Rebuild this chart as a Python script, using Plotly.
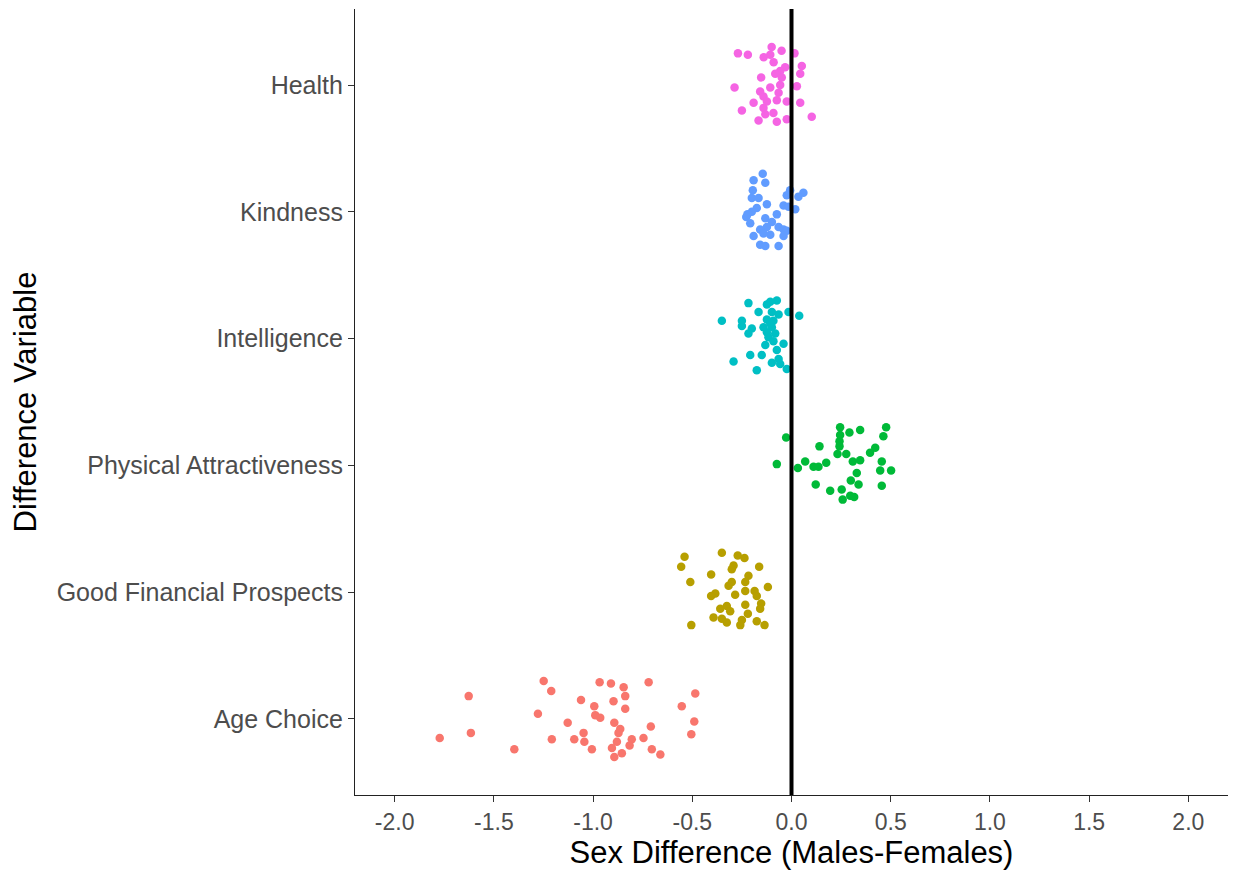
import plotly.graph_objects as go

categories = ["Age Choice", "Good Financial Prospects", "Physical Attractiveness",
              "Intelligence", "Kindness", "Health"]
colors = ["#F8766D", "#B79F00", "#00BA38", "#00BFC4", "#619CFF", "#F564E3"]

# x = sex difference, j = vertical jitter offset around the category
health_x = [-0.27, -0.22, -0.10, -0.05, 0.015, -0.14, -0.107, -0.09, 0.052, 0.044, -0.032, -0.057,
            -0.082, -0.153, -0.049, -0.287, -0.107, -0.057, 0.027, -0.158, -0.065, -0.141, -0.124,
            -0.074, -0.024, -0.191, 0.044, -0.141, -0.25, -0.091, -0.132, -0.166, -0.074, -0.024, 0.102]
health_j = [0.25, 0.24, 0.30, 0.27, 0.25, 0.22, 0.24, 0.18, 0.15, 0.09, 0.14, 0.11,
            0.09, 0.06, 0.06, -0.02, -0.02, 0.00, -0.01, -0.05, -0.06, -0.09, -0.13,
            -0.12, -0.13, -0.14, -0.14, -0.18, -0.20, -0.22, -0.23, -0.28, -0.29, -0.27, -0.25]

kind_x = [-0.145, -0.191, -0.132, -0.195, -0.007, 0.06, -0.024, 0.035, -0.2, -0.166, -0.124, -0.04,
          -0.015, -0.175, -0.2, -0.074, 0.019, -0.228, -0.132, -0.208, -0.099, -0.124, -0.065, -0.158,
          -0.04, -0.024, -0.191, -0.107, -0.141, -0.04, -0.158, -0.132, -0.065, -0.222]
kind_j = [0.30, 0.25, 0.23, 0.17, 0.17, 0.15, 0.13, 0.12, 0.11, 0.11, 0.06, 0.05,
          0.04, 0.03, 0.00, -0.02, 0.02, -0.04, -0.05, -0.09, -0.08, -0.12, -0.12, -0.14,
          -0.14, -0.15, -0.19, -0.18, -0.17, -0.19, -0.26, -0.27, -0.27, -0.02]

intel_x = [-0.074, -0.217, -0.124, -0.107, -0.166, -0.015, 0.039, -0.099, -0.065, -0.351, -0.25, -0.124,
           -0.091, -0.25, -0.141, -0.099, -0.2, -0.217, -0.124, -0.082, -0.116, -0.091, -0.04, -0.132,
           -0.074, -0.15, -0.208, -0.065, -0.292, -0.099, -0.057, -0.024, -0.175, -0.107]
intel_j = [0.30, 0.28, 0.27, 0.29, 0.21, 0.21, 0.18, 0.21, 0.19, 0.14, 0.14, 0.15,
           0.14, 0.10, 0.09, 0.09, 0.08, 0.04, 0.05, 0.04, 0.01, -0.02, -0.04, -0.05,
           -0.09, -0.13, -0.13, -0.16, -0.18, -0.19, -0.20, -0.24, -0.25, 0.12]

phys_x = [-0.027, 0.245, 0.346, 0.292, 0.477, 0.463, 0.245, 0.242, 0.141, 0.242, 0.422, 0.396,
          0.232, 0.276, -0.074, 0.069, 0.175, 0.309, 0.346, 0.455, 0.032, 0.111, 0.136, 0.329,
          0.447, 0.502, 0.299, 0.338, 0.122, 0.195, 0.253, 0.455, 0.258, 0.296, 0.316]
phys_j = [0.22, 0.30, 0.28, 0.26, 0.30, 0.23, 0.24, 0.19, 0.15, 0.15, 0.14, 0.10,
          0.09, 0.09, 0.01, 0.03, 0.02, 0.03, 0.04, 0.03, -0.02, -0.01, -0.01, -0.06,
          -0.04, -0.04, -0.12, -0.15, -0.15, -0.20, -0.19, -0.16, -0.27, -0.24, -0.25]

fin_x = [-0.539, -0.556, -0.351, -0.271, -0.237, -0.292, -0.301, -0.163, -0.405, -0.217, -0.51, -0.301,
         -0.233, -0.317, -0.119, -0.233, -0.186, -0.384, -0.405, -0.284, -0.175, -0.153, -0.233, -0.326,
         -0.359, -0.309, -0.158, -0.22, -0.393, -0.351, -0.326, -0.25, -0.258, -0.175, -0.136, -0.505]
fin_j = [0.28, 0.20, 0.31, 0.29, 0.27, 0.21, 0.18, 0.20, 0.14, 0.13, 0.08, 0.08,
         0.08, 0.05, 0.04, 0.01, 0.01, -0.01, -0.03, -0.02, -0.03, -0.09, -0.10, -0.11,
         -0.13, -0.15, -0.13, -0.17, -0.20, -0.21, -0.24, -0.22, -0.26, -0.23, -0.26, -0.26]

age_x = [-1.773, -1.627, -1.616, -1.397, -1.249, -1.211, -1.278, -1.208, -1.128, -0.967, -0.910, -0.846,
         -0.720, -1.061, -0.897, -0.838, -0.485, -0.994, -0.838, -0.553, -0.989, -0.964, -0.893, -0.490,
         -0.709, -0.863, -1.048, -0.872, -0.505, -1.095, -1.044, -0.880, -0.805, -0.746, -0.816, -1.006,
         -0.905, -0.704, -0.661, -0.855, -0.893]
age_j = [-0.15, 0.18, -0.11, -0.24, 0.30, 0.22, 0.04, -0.16, -0.03, 0.29, 0.28, 0.25,
         0.29, 0.15, 0.14, 0.18, 0.20, 0.10, 0.08, 0.10, 0.03, 0.01, -0.03, -0.02,
         -0.06, -0.08, -0.11, -0.11, -0.12, -0.16, -0.18, -0.18, -0.16, -0.15, -0.21, -0.24,
         -0.23, -0.24, -0.28, -0.27, -0.30]

xs = [age_x, fin_x, phys_x, intel_x, kind_x, health_x]
js = [age_j, fin_j, phys_j, intel_j, kind_j, health_j]

x_ticks = [-2.0, -1.5, -1.0, -0.5, 0.0, 0.5, 1.0, 1.5, 2.0]

fig = go.Figure()
for i, (cat, col, xv, jv) in enumerate(zip(categories, colors, xs, js)):
    pos = i + 1
    fig.add_trace(go.Scatter(
        x=xv, y=[pos + j for j in jv], mode="markers", name=cat,
        marker=dict(color=col, size=8.5, line=dict(width=0)),
        showlegend=False))

fig.add_shape(type="line", x0=0, x1=0, y0=0, y1=1, xref="x", yref="paper",
              line=dict(color="black", width=4), layer="above")

fig.update_layout(
    width=1236, height=873,
    margin=dict(l=355, r=8, t=9, b=78),
    plot_bgcolor="white", paper_bgcolor="white",
    font=dict(family="Liberation Sans, Arial, sans-serif"),
    xaxis=dict(
        range=[-2.2, 2.2], tickvals=x_ticks, ticktext=[f"{v:.1f}" for v in x_ticks],
        showgrid=False, zeroline=False, showline=True, linecolor="#222", linewidth=1.2,
        ticks="outside", ticklen=6, tickcolor="#333", tickwidth=1.2,
        tickfont=dict(size=23, color="#4D4D4D"),
        title=dict(text="Sex Difference (Males-Females)", font=dict(size=31, color="black"), standoff=3),
    ),
    yaxis=dict(
        range=[0.4, 6.6], tickvals=[1, 2, 3, 4, 5, 6], ticktext=categories,
        showgrid=False, zeroline=False, showline=True, linecolor="#222", linewidth=1.2,
        ticks="outside", ticklen=6, tickcolor="#333", tickwidth=1.2,
        tickfont=dict(size=25, color="#4D4D4D"),
        title=dict(text="Difference Variable", font=dict(size=31, color="black"), standoff=10),
    ),
)

fig.write_html("out.html")
